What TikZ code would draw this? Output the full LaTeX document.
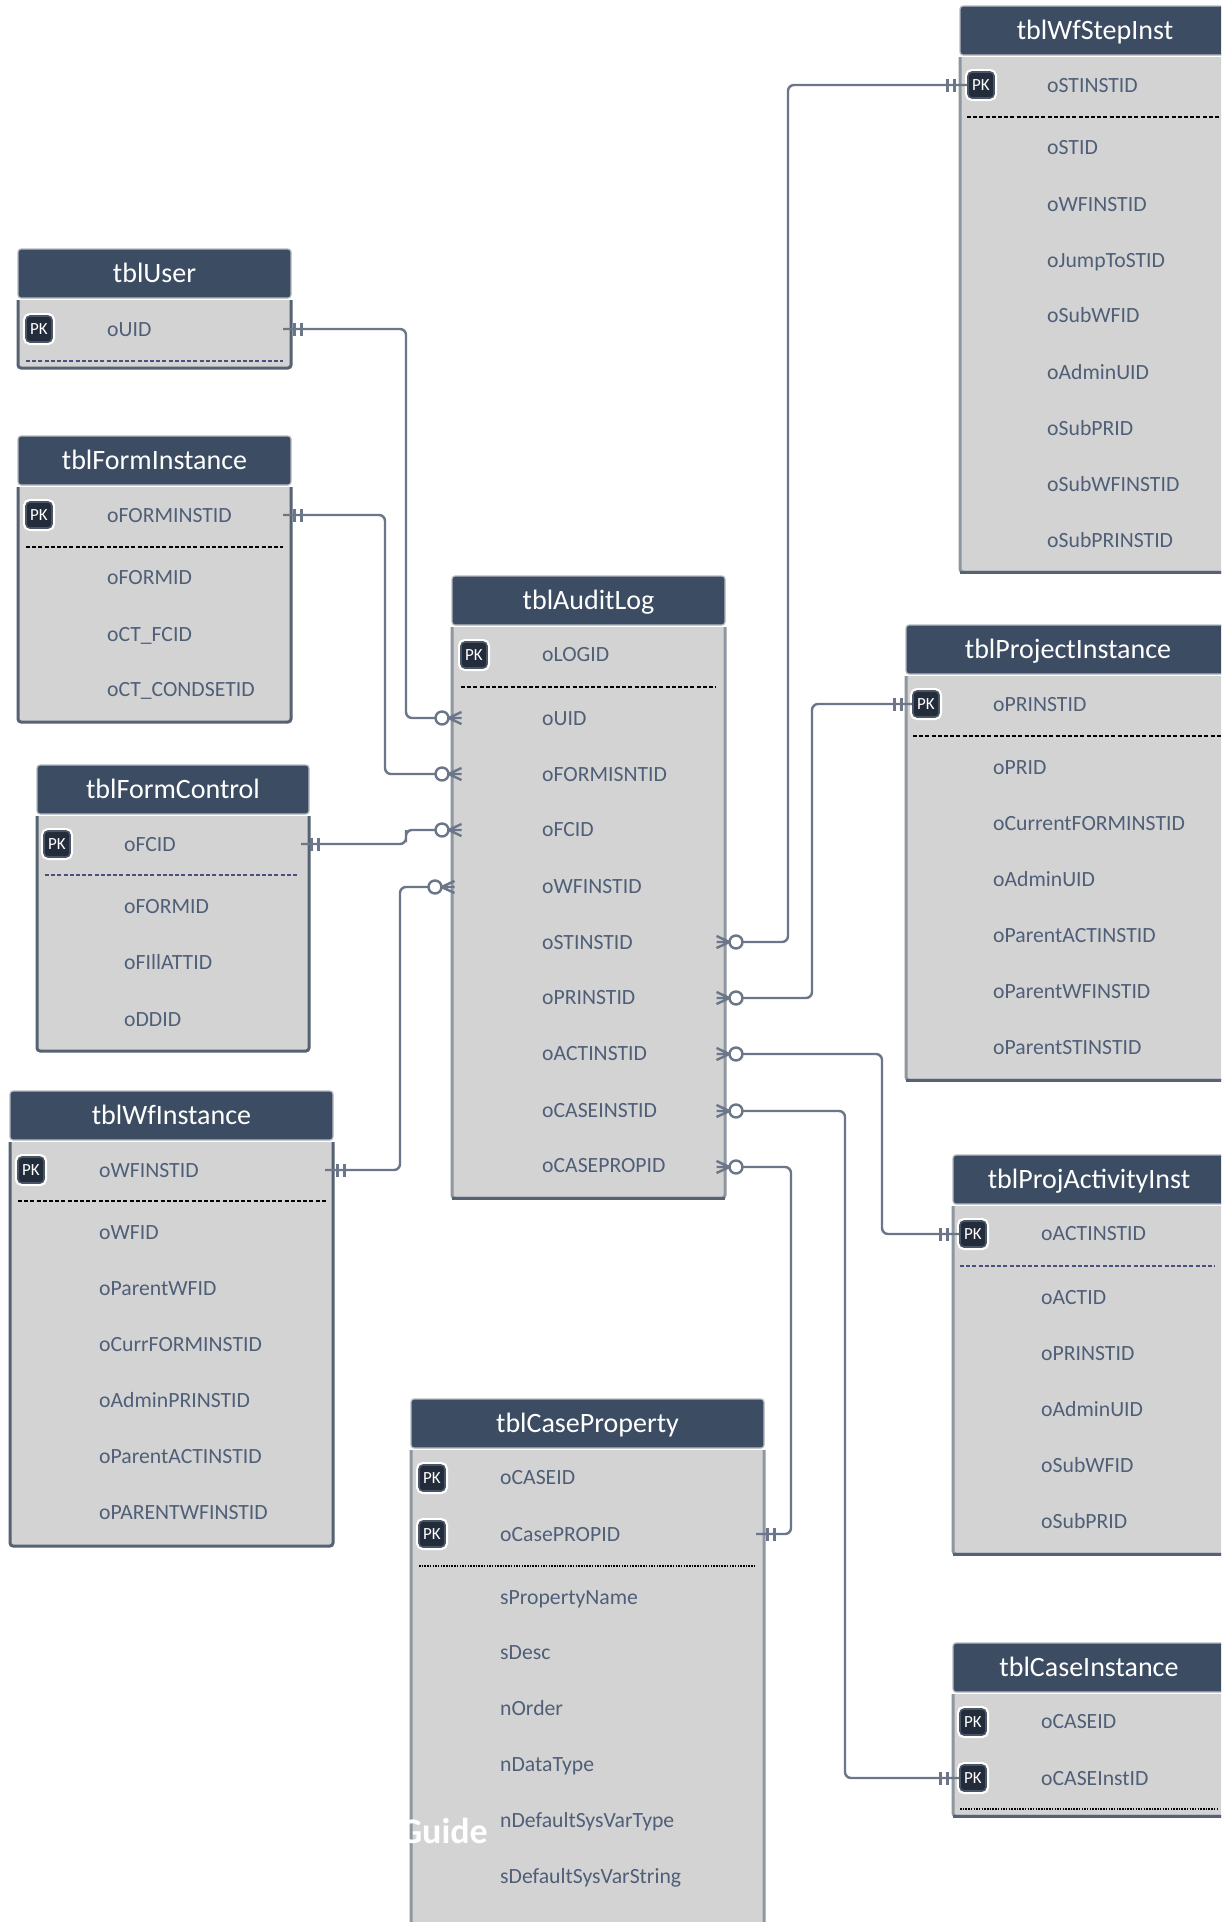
\documentclass[tikz,border=0pt]{standalone}
\usepackage{fontspec}
\setmainfont{Carlito}
\usetikzlibrary{positioning}
\definecolor{hdrblue}{HTML}{3C4D63}
\definecolor{hdrrim}{HTML}{B4B9C0}
\definecolor{bodygray}{HTML}{D3D3D3}
\definecolor{rimgray}{HTML}{566272}
\definecolor{rimpale}{HTML}{8E96A0}
\definecolor{attrblue}{HTML}{4F5F78}
\definecolor{pkdark}{HTML}{232C3A}
\definecolor{pkrim}{HTML}{4A5565}
\definecolor{connblue}{HTML}{6B7688}
\definecolor{sepviolet}{HTML}{4A4F80}
\tikzset{
  hdr/.style={anchor=north west,fill=hdrblue,draw=hdrrim,line width=1.2pt,rounded corners=3pt,
    text=white,font=\fontsize{28}{32}\selectfont,inner sep=0pt,outer sep=0pt,text height=18pt,text depth=0pt},
  bodybox/.style={fill=bodygray,inner sep=0pt,outer sep=0pt},
  rim/.style={draw=rimgray,line width=3pt,rounded corners=3pt},
  rimlight/.style={draw=rimpale,line width=3pt,rounded corners=3pt},
  sep/.style={line width=2pt,dash pattern=on 4pt off 2.2pt},
  sepdot/.style={line width=1.6pt,dash pattern=on 1.5pt off 1.2pt},
  attr/.style={anchor=west,text=attrblue,font=\fontsize{21.7}{26}\selectfont,inner sep=0pt,
    text height=14pt,text depth=0pt},
  pk/.style={fill=pkdark,draw=pkrim,line width=1.6pt,rounded corners=4pt,minimum size=26pt,inner sep=0pt,
    text=white,font=\fontsize{17}{19}\selectfont,preaction={draw=white,line width=6pt}},
  conn/.style={draw=connblue,line width=2.4pt,rounded corners=6pt},
  ring/.style={circle,draw=connblue,line width=2.4pt,fill=white,minimum size=13pt,inner sep=0pt,outer sep=0pt},
  many/.pic={\draw[draw=connblue,line width=2.4pt] (0,0) -- (13,-6) (0,0) -- (13,0) (0,0) -- (13,6);},
  one/.pic={\draw[draw=connblue,line width=2.4pt] (-3.5,-6.5) -- (-3.5,6.5) (3.5,-6.5) -- (3.5,6.5);},
}
\begin{document}
\begin{tikzpicture}[x=1pt,y=-1pt]
  \useasboundingbox (0,0) rectangle (1221,1922);
  \fill[white] (0,0) rectangle (1221,1922);
  \clip (0,0) rectangle (1221,1922);
  % left column
  \node[hdr,minimum width=273,minimum height=49] (userH) at (18,249) {tblUser};
  \node[bodybox,minimum width=273,minimum height=68,below=2pt of userH] (userB) {};
  \draw[rim] (userB.north west) |- (userB.south east) -- (userB.north east);
  \draw[sep,sepviolet] (26,361) -- (283,361);
  \node[pk] (userPK) at (39,329) {PK};
  \node[attr] (user329) at (107,329) {oUID};

  \node[hdr,minimum width=273,minimum height=49] (finstH) at (18,436) {tblFormInstance};
  \node[bodybox,minimum width=273,minimum height=235,below=2pt of finstH] (finstB) {};
  \draw[rim] (finstB.north west) |- (finstB.south east) -- (finstB.north east);
  \draw[sep] (26,547) -- (283,547);
  \node[pk] (finstPK) at (39,515) {PK};
  \foreach \y/\t in {515/oFORMINSTID,577/oFORMID,634/oCT\_FCID,689/oCT\_CONDSETID}
    \node[attr] (finst\y) at (107,\y) {\t};

  \node[hdr,minimum width=272,minimum height=49] (fctlH) at (37,765) {tblFormControl};
  \node[bodybox,minimum width=272,minimum height=235,below=2pt of fctlH] (fctlB) {};
  \draw[rim] (fctlB.north west) |- (fctlB.south east) -- (fctlB.north east);
  \draw[sep,sepviolet] (45,875) -- (299,875);
  \node[pk] (fctlPK) at (57,844) {PK};
  \foreach \y/\t in {844/oFCID,906/oFORMID,962/oFIllATTID,1019/oDDID}
    \node[attr] (fctl\y) at (124,\y) {\t};

  \node[hdr,minimum width=323,minimum height=49] (wfH) at (10,1091) {tblWfInstance};
  \node[bodybox,minimum width=323,minimum height=404,below=2pt of wfH] (wfB) {};
  \draw[rim] (wfB.north west) |- (wfB.south east) -- (wfB.north east);
  \draw[sep] (18,1201) -- (326,1201);
  \node[pk] (wfPK) at (31,1170) {PK};
  \foreach \y/\t in {1170/oWFINSTID,1232/oWFID,1288/oParentWFID,1344/oCurrFORMINSTID,1400/oAdminPRINSTID,1456/oParentACTINSTID,1512/oPARENTWFINSTID}
    \node[attr] (wf\y) at (99,\y) {\t};

  % middle column
  \node[hdr,minimum width=273,minimum height=49] (auditH) at (452,576) {tblAuditLog};
  \node[bodybox,minimum width=273,minimum height=571,below=2pt of auditH] (auditB) {};
  \draw[rimlight] (auditB.north west) |- (auditB.south east) -- (auditB.north east);
  \draw[rim] (auditB.south west) -- (auditB.south east);
  \draw[sep] (461,687) -- (716,687);
  \node[pk] (auditPK) at (474,655) {PK};
  \foreach \y/\t in {654/oLOGID,718/oUID,774/oFORMISNTID,829/oFCID,886/oWFINSTID,942/oSTINSTID,997/oPRINSTID,1053/oACTINSTID,1110/oCASEINSTID,1165/oCASEPROPID}
    \node[attr] (audit\y) at (542,\y) {\t};

  \node[hdr,minimum width=353,minimum height=49] (propH) at (411,1399) {tblCaseProperty};
  \node[bodybox,minimum width=353,minimum height=500,below=2pt of propH] (propB) {};
  \draw[rimlight] (propB.north west) |- (propB.south east) -- (propB.north east);
  \draw[sepdot] (419,1566) -- (756,1566);
  \node[pk] (propPKa) at (432,1478) {PK};
  \node[pk] (propPKb) at (432,1534) {PK};
  \foreach \y/\t in {1477/oCASEID,1534/oCasePROPID,1597/sPropertyName,1652/sDesc,1708/nOrder,1764/nDataType,1820/nDefaultSysVarType,1876/sDefaultSysVarString}
    \node[attr] (prop\y) at (500,\y) {\t};
  \node[anchor=base east,text=white,font=\fontsize{36}{40}\selectfont\bfseries,inner sep=0pt] (guide) at (488,1843) {Guide};

  % right column
  \node[hdr,minimum width=270,minimum height=49] (stepH) at (960,6) {tblWfStepInst};
  \node[bodybox,minimum width=270,minimum height=515,below=2pt of stepH] (stepB) {};
  \draw[rimlight] (stepB.north west) |- (stepB.south east) -- (stepB.north east);
  \draw[rim] (stepB.south west) -- (stepB.south east);
  \draw[sep] (967,117) -- (1221,117);
  \node[pk] (stepPK) at (981,85) {PK};
  \foreach \y/\t in {85/oSTINSTID,147/oSTID,204/oWFINSTID,260/oJumpToSTID,315/oSubWFID,372/oAdminUID,428/oSubPRID,484/oSubWFINSTID,540/oSubPRINSTID}
    \node[attr] (step\y) at (1047,\y) {\t};

  \node[hdr,minimum width=324,minimum height=49] (projH) at (906,625) {tblProjectInstance};
  \node[bodybox,minimum width=324,minimum height=404,below=2pt of projH] (projB) {};
  \draw[rimlight] (projB.north west) |- (projB.south east) -- (projB.north east);
  \draw[rim] (projB.south west) -- (projB.south east);
  \draw[sep] (913,736) -- (1221,736);
  \node[pk] (projPK) at (926,704) {PK};
  \foreach \y/\t in {704/oPRINSTID,767/oPRID,823/oCurrentFORMINSTID,879/oAdminUID,935/oParentACTINSTID,991/oParentWFINSTID,1047/oParentSTINSTID}
    \node[attr] (proj\y) at (993,\y) {\t};

  \node[hdr,minimum width=272,minimum height=49] (actH) at (953,1155) {tblProjActivityInst};
  \node[bodybox,minimum width=272,minimum height=348,below=2pt of actH] (actB) {};
  \draw[rimlight] (actB.north west) |- (actB.south east) -- (actB.north east);
  \draw[rim] (actB.south west) -- (actB.south east);
  \draw[sep,sepviolet] (960,1266) -- (1215,1266);
  \node[pk] (actPK) at (973,1234) {PK};
  \foreach \y/\t in {1233/oACTINSTID,1297/oACTID,1353/oPRINSTID,1409/oAdminUID,1465/oSubWFID,1521/oSubPRID}
    \node[attr] (act\y) at (1041,\y) {\t};

  \node[hdr,minimum width=272,minimum height=49] (cinstH) at (953,1643) {tblCaseInstance};
  \node[bodybox,minimum width=272,minimum height=122,below=2pt of cinstH] (cinstB) {};
  \draw[rimlight] (cinstB.north west) |- (cinstB.south east) -- (cinstB.north east);
  \draw[rim] (cinstB.south west) -- (cinstB.south east);
  \draw[sepdot] (960,1809) -- (1217,1809);
  \node[pk] (cinstPKa) at (973,1722) {PK};
  \node[pk] (cinstPKb) at (973,1778) {PK};
  \foreach \y/\t in {1721/oCASEID,1778/oCASEInstID}
    \node[attr] (cinst\y) at (1041,\y) {\t};

  % links into tblAuditLog
  \coordinate (userEnd) at (283,329);
  \coordinate (finstEnd) at (283,515);
  \coordinate (fctlEnd) at (301,844);
  \coordinate (wfEnd) at (325,1170);
  \coordinate (propEnd) at (756,1534);
  \node[ring] (ringUID) at (442,718) {};
  \node[ring] (ringFORM) at (442,774) {};
  \node[ring] (ringFC) at (442,830) {};
  \node[ring] (ringWF) at (435,887) {};
  \node[ring] (ringST) at (736,942) {};
  \node[ring] (ringPR) at (736,998) {};
  \node[ring] (ringACT) at (736,1054) {};
  \node[ring] (ringCASE) at (736,1111) {};
  \node[ring] (ringPROP) at (736,1167) {};

  \draw[conn] (userEnd) -| (406,500) |- (ringUID);
  \draw[conn] (finstEnd) -| (385,600) |- (ringFORM);
  \draw[conn] (fctlEnd) -| (406,836) |- (ringFC);
  \draw[conn] (wfEnd) -| (400,1000) |- (ringWF);
  \draw[conn] (ringST) -| (788,500) |- (stepPK);
  \draw[conn] (ringPR) -| (812,850) |- (projPK);
  \draw[conn] (ringACT) -| (882,1100) |- (actPK);
  \draw[conn] (ringCASE) -| (845,1500) |- (cinstPKb);
  \draw[conn] (ringPROP) -| (791,1300) |- (propEnd);

  \pic at (ringUID.east) {many};
  \pic at (ringFORM.east) {many};
  \pic at (ringFC.east) {many};
  \pic at (ringWF.east) {many};
  \pic[rotate=180] at (ringST.west) {many};
  \pic[rotate=180] at (ringPR.west) {many};
  \pic[rotate=180] at (ringACT.west) {many};
  \pic[rotate=180] at (ringCASE.west) {many};
  \pic[rotate=180] at (ringPROP.west) {many};

  \pic at (298,329) {one};
  \pic at (298,515) {one};
  \pic at (315,844) {one};
  \pic at (341,1170) {one};
  \pic at (951,85) {one};
  \pic at (898,704) {one};
  \pic at (944,1234) {one};
  \pic at (944,1778) {one};
  \pic at (771,1534) {one};
\end{tikzpicture}
\end{document}
